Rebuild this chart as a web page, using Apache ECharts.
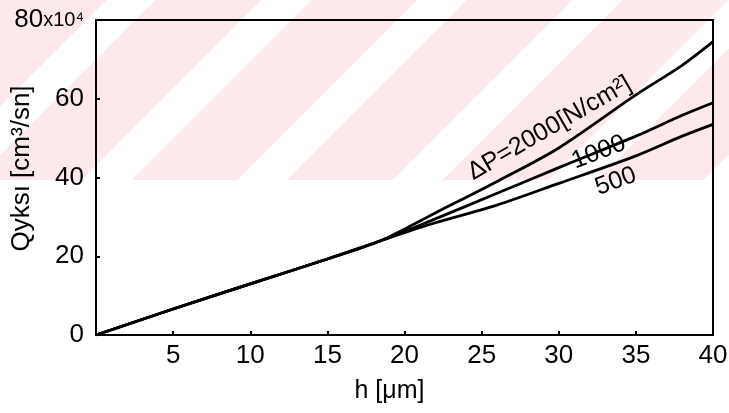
<!DOCTYPE html>
<html>
<head>
<meta charset="utf-8">
<script src="https://cdn.jsdelivr.net/npm/echarts@6/dist/echarts.min.js"></script>
<style>
  html, body { margin: 0; padding: 0; background: #fff; }
  #wrap { position: relative; width: 729px; height: 413px; }
  #bg {
    position: absolute; left: 0; top: 0; width: 729px; height: 180px;
    background: repeating-linear-gradient(135deg, #fde8ec 0px, #fde8ec 75px, #ffffff 75px, #ffffff 110px);
  }
  #chart { position: absolute; left: 0; top: 0; width: 729px; height: 413px; }
</style>
</head>
<body>
<div id="wrap">
  <div id="bg"></div>
  <div id="chart"></div>
</div>
<script>
// h [μm]
const hValues = [0, 5, 10, 15, 18.5, 22, 26, 30, 35, 38, 40]
// Q for each pressure difference
const q2000 = [0, 6.6, 13, 19.3, 24, 31, 39, 47.5, 61, 68.5, 74.5]
const q1000 = [0, 6.6, 13, 19.3, 24, 29.5, 36, 42.5, 50.5, 55.8, 59]
const q500 = [0, 6.6, 13, 19.3, 24, 28.5, 33, 38.5, 45.5, 50.5, 53.5]

const yTickLabels = { 0: '0', 20: '20', 40: '40', 60: '60', 80: '{a|80}{b|x10⁴}' }

const fontFam = 'Liberation Sans'

const chart = echarts.init(document.getElementById('chart'))

function pairs(ys) {
  return hValues.map((h, i) => [h, ys[i]])
}

function curve(name, ys, labelText, labelPos, angle) {
  return {
    name: name,
    type: 'line',
    data: pairs(ys),
    showSymbol: false,
    smooth: 0.3,
    lineStyle: { color: '#000', width: 2.8 },
    markPoint: {
      symbol: 'circle',
      symbolSize: 0,
      data: [{ coord: labelPos }],
      label: {
        show: true,
        formatter: labelText,
        position: 'inside',
        rotate: angle,
        color: '#000',
        fontFamily: fontFam,
        fontSize: 25
      }
    }
  }
}

chart.setOption({
  animation: false,
  backgroundColor: 'transparent',
  grid: {
    left: 96,
    right: 16,
    top: 20,
    bottom: 78,
    outerBoundsMode: 'none',
    show: true,
    borderColor: '#000',
    borderWidth: 2
  },
  xAxis: {
    type: 'value',
    min: 0,
    max: 40,
    interval: 5,
    name: 'h [μm]',
    nameLocation: 'middle',
    nameGap: 44,
    nameMoveOverlap: false,
    nameTextStyle: { color: '#000', fontFamily: fontFam, fontSize: 25, padding: [0, 30, 0, 0] },
    axisLine: { show: true, lineStyle: { color: '#000', width: 2 } },
    axisTick: { show: true, inside: true, length: 4, lineStyle: { color: '#000', width: 2 } },
    splitLine: { show: false },
    axisLabel: {
      color: '#000',
      fontFamily: fontFam,
      fontSize: 26,
      margin: 8,
      formatter: v => (v === 0 ? '' : String(v))
    }
  },
  yAxis: {
    type: 'value',
    min: 0,
    max: 80,
    interval: 20,
    name: 'Qyksı [cm³/sn]',
    nameLocation: 'middle',
    nameGap: 61,
    nameMoveOverlap: false,
    nameTextStyle: { color: '#000', fontFamily: fontFam, fontSize: 26, padding: [0, 0, 0, 18] },
    axisLine: { show: true, lineStyle: { color: '#000', width: 2 } },
    axisTick: { show: true, inside: true, length: 4, lineStyle: { color: '#000', width: 2 } },
    splitLine: { show: false },
    axisLabel: {
      color: '#000',
      fontFamily: fontFam,
      fontSize: 26,
      margin: 12,
      formatter: v => yTickLabels[v],
      rich: {
        a: { fontFamily: fontFam, fontSize: 26, color: '#000' },
        b: { fontFamily: fontFam, fontSize: 20, color: '#000' }
      }
    }
  },
  series: [
    curve('2000', q2000, 'ΔP=2000[N/cm²]', [29.4, 52.5], 30),
    curve('1000', q1000, '1000', [32.6, 46.4], 21),
    curve('500', q500, '500', [33.7, 39], 20)
  ]
})
</script>
</body>
</html>
